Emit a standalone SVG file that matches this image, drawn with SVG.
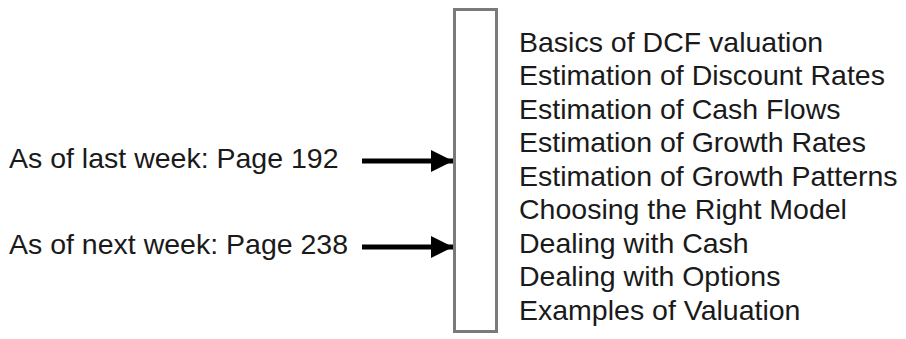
<svg xmlns="http://www.w3.org/2000/svg" width="906" height="339" viewBox="0 0 906 339">
<style>
  text { font-family: "Liberation Sans", Arial, sans-serif; font-size: 28.5px; fill: #1a1a1a; }
  .box { fill: #ffffff; stroke: #7a7a7a; stroke-width: 3; }
  .conn { stroke: #000; stroke-width: 5; fill: none; }
</style>
<defs>
  <marker id="ah" markerUnits="userSpaceOnUse" markerWidth="24" markerHeight="22" refX="22" refY="11" orient="auto">
    <path d="M0,0 L22,11 L0,22 Z" fill="#000"/>
  </marker>
</defs>
<rect width="906" height="339" fill="#ffffff"/>
<g id="box">
  <rect class="box" x="454.5" y="9.5" width="42" height="322"/>
</g>
<g id="label-last">
  <text x="9" y="168">As of last week: Page 192</text>
</g>
<g id="label-next">
  <text x="9" y="254">As of next week: Page 238</text>
</g>
<g id="topics">
  <text x="519" y="51.5">Basics of DCF valuation</text>
  <text x="519" y="85">Estimation of Discount Rates</text>
  <text x="519" y="118.5">Estimation of Cash Flows</text>
  <text x="519" y="152">Estimation of Growth Rates</text>
  <text x="519" y="185.5">Estimation of Growth Patterns</text>
  <text x="519" y="219">Choosing the Right Model</text>
  <text x="519" y="252.5">Dealing with Cash</text>
  <text x="519" y="286">Dealing with Options</text>
  <text x="519" y="319.5">Examples of Valuation</text>
</g>
<g id="connectors">
  <line class="conn" x1="362" y1="161" x2="453" y2="161" marker-end="url(#ah)"/>
  <line class="conn" x1="362" y1="247" x2="453" y2="247" marker-end="url(#ah)"/>
</g>
</svg>
